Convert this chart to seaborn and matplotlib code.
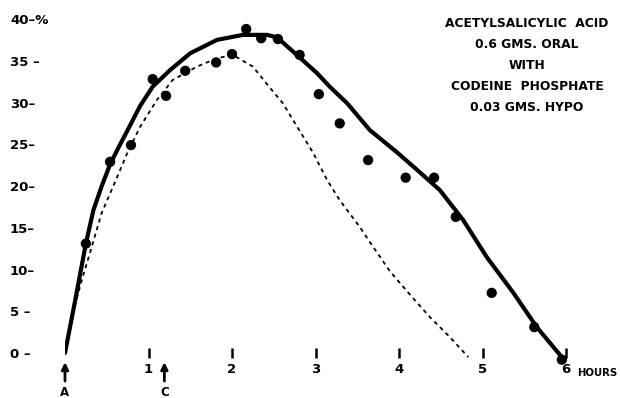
import seaborn as sns
import numpy as np
import matplotlib.pyplot as plt

# observed points (hours, %)
hrs_obs = [0.25, 0.54, 0.79, 1.05, 1.21, 1.44, 1.81, 2.00, 2.17, 2.35, 2.55,
           2.81, 3.04, 3.29, 3.63, 4.08, 4.42, 4.68, 5.11, 5.62, 5.95]
pct_obs = [13.1, 22.9, 24.9, 32.8, 30.8, 33.8, 34.8, 35.8, 38.8, 37.7, 37.6,
           35.7, 31.0, 27.5, 23.1, 21.0, 21.0, 16.3, 7.2, 3.1, -0.8]

# drawn smooth curve (solid)
hrs_solid = [0.0, 0.12, 0.25, 0.34, 0.44, 0.54, 0.64, 0.74, 0.90, 1.05, 1.26,
             1.50, 1.82, 2.13, 2.42, 2.54, 2.81, 3.02, 3.17, 3.38, 3.65,
             3.98, 4.22, 4.49, 4.77, 5.05, 5.37, 5.65, 5.95]
pct_solid = [0.0, 6.2, 13.1, 17.1, 20.0, 22.6, 24.6, 26.5, 29.6, 31.9, 33.9,
             35.9, 37.5, 38.1, 38.1, 37.8, 35.4, 33.5, 31.9, 29.9, 26.7,
             24.0, 21.9, 19.5, 15.9, 11.5, 7.2, 3.1, -0.5]

# drawn curve (dashed)
hrs_dash = [0.0, 0.10, 0.20, 0.32, 0.44, 0.57, 0.74, 0.90, 1.10, 1.29, 1.58,
            1.82, 2.01, 2.25, 2.46, 2.61, 2.78, 2.97, 3.14, 3.29, 3.53, 3.65,
            3.89, 4.13, 4.37, 4.61, 4.83]
pct_dash = [0.0, 5.0, 8.7, 12.7, 16.8, 19.8, 23.8, 27.1, 30.3, 32.7, 34.3,
            35.3, 35.7, 34.3, 31.7, 29.9, 27.1, 24.0, 20.7, 18.3, 15.1, 13.3,
            9.8, 7.0, 4.3, 1.9, -0.5]

y_ticks = [0, 5, 10, 15, 20, 25, 30, 35, 40]
y_labels = ['0 –', '5 –', '10–', '15–', '20–', '25–', '30–', '35 –', '40–%']
x_ticks = [1, 2, 3, 4, 5, 6]
x_labels = ['1', '2', '3', '4', '5', '6']

note = ("ACETYLSALICYLIC  ACID\n0.6 GMS. ORAL\nWITH\n"
        "CODEINE  PHOSPHATE\n0.03 GMS. HYPO")

sns.set_style("white")
plt.rcParams['font.family'] = ['DejaVu Sans']
plt.rcParams['font.weight'] = 'bold'
plt.rcParams['text.color'] = 'black'
plt.rcParams['xtick.color'] = 'black'
plt.rcParams['ytick.color'] = 'black'

fig = plt.figure(figsize=(6.2, 3.98), dpi=100)
ax = fig.add_axes([65 / 620, 33 / 398, 535 / 620, 355 / 398])

sns.lineplot(x=hrs_solid, y=pct_solid, ax=ax, color='black', linewidth=3.0,
             sort=False, estimator=None, solid_capstyle='round',
             solid_joinstyle='round')
sns.lineplot(x=hrs_dash, y=pct_dash, ax=ax, color='black', linewidth=1.3,
             sort=False, estimator=None, linestyle=(0, (2.2, 2.2)))
sns.scatterplot(x=hrs_obs, y=pct_obs, ax=ax, color='black', s=55,
                edgecolor='none', clip_on=False, zorder=5)

ax.set_xlim(0, 6.407)
ax.set_ylim(-1.437, 41.08)

for s in ['top', 'right', 'left']:
    ax.spines[s].set_visible(False)
ax.spines['bottom'].set_position(('data', 0))
ax.spines['bottom'].set_visible(False)

ax.set_xticks(x_ticks)
ax.set_xticklabels(x_labels, fontsize=9.5, fontweight='bold')
ax.tick_params(axis='x', direction='inout', length=7, width=1.8, pad=4,
               bottom=True, colors='black')
ax.set_yticks(y_ticks)
ax.set_yticklabels(y_labels, fontsize=9.5, fontweight='bold', ha='left')
ax.tick_params(axis='y', length=0, pad=39.6, colors='black')

ax.text(6.13, -2.4, 'HOURS', fontsize=7.3, fontweight='bold',
        ha='left', va='center', clip_on=False)

# injection markers
for xm, lab in [(0, 'A'), (1.19, 'C')]:
    ax.annotate(lab, xy=(xm, -1.1), xytext=(xm, -4.7), ha='center',
                va='center', fontsize=8.5, fontweight='bold',
                annotation_clip=False,
                arrowprops=dict(arrowstyle='-|>', color='black', lw=2.0,
                                mutation_scale=10, shrinkA=1, shrinkB=0))

ax.text(0.8636, 0.98, note, transform=ax.transAxes, ha='center', va='top',
        fontsize=8.8, fontweight='bold', linespacing=1.8)

ax.set_xlabel('')
ax.set_ylabel('')

fig.savefig('out.png', dpi=100)
